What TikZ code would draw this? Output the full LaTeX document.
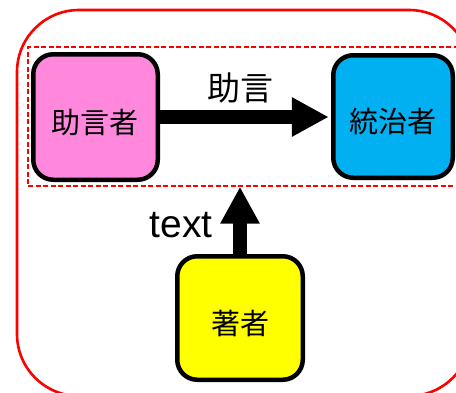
\documentclass[tikz,border=0pt]{standalone}
\usepackage{fontspec}
\setmainfont{Liberation Sans}
\newfontfamily\cjk{Noto Sans CJK JP}
\usetikzlibrary{arrows.meta}
\definecolor{boxpink}{HTML}{FF88DD}
\definecolor{boxblue}{HTML}{00B0F0}
\definecolor{boxyellow}{HTML}{FFFF00}
\begin{document}
\begin{tikzpicture}[x=1pt,y=-1pt,
  actor/.style={draw=black, line width=4.5pt, rounded corners=20pt, inner sep=0pt,
    text height=32pt, text depth=0pt, font=\cjk\fontsize{29}{29}\selectfont},
  bigarrow/.style={line width=14pt, -{Triangle[length=37pt,width=37pt]}},
]
\useasboundingbox (0,0) rectangle (456,392);
\clip (0,0) rectangle (456,392);
\draw[red, line width=2.6pt, rounded corners=62pt] (17,10) rectangle (471,396);
\node[draw=red, line width=1.4pt, dash pattern=on 5pt off 2.5pt, minimum width=442pt,
  minimum height=139pt, inner sep=0pt] (group) at (249,116.5) {};
\node[actor, fill=boxpink, minimum width=124.5pt, minimum height=125.5pt] (advisor) at (95.5,117) {助言者};
\node[actor, fill=boxblue, minimum width=119.5pt, minimum height=122.5pt] (ruler) at (393,116.5) {統治者};
\node[actor, fill=boxyellow, minimum width=125.5pt, minimum height=123.5pt] (author) at (240,318) {著者};
\coordinate (rulerin) at ([xshift=-2.25pt]ruler.west);
\coordinate (groupbottom) at (author.north |- group.south);
\draw[bigarrow] (advisor.east) -- (advisor.east -| rulerin);
\draw[bigarrow] (author.north) -- (groupbottom);
\node[font=\cjk\fontsize{33}{33}\selectfont, inner sep=0pt] (advlabel) at (240.5,88) {助言};
\node[font=\fontsize{39}{39}\selectfont, anchor=base east, inner sep=0pt] (textlabel) at (213,237) {text};
\end{tikzpicture}
\end{document}
